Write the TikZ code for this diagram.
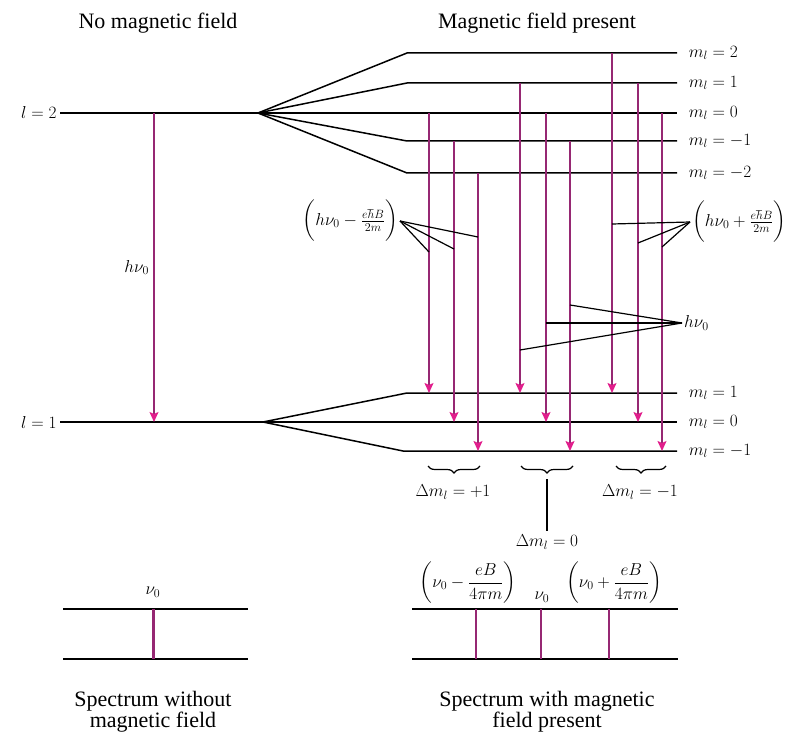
\documentclass[tikz,border=0pt]{standalone}
\usepackage{amsmath}
\usepackage{fontspec}
\setmainfont{Liberation Serif}
\usetikzlibrary{arrows.meta,decorations.pathreplacing}
\definecolor{zline}{RGB}{150,40,115}
\definecolor{zhead}{RGB}{225,30,140}

\begin{document}
\begin{tikzpicture}[x=1pt,y=-1pt,font=\fontsize{17}{20}\selectfont,
  lvl/.style={line width=1.5pt},
  trans/.style={zline,line width=1.4pt,-{Stealth[length=10pt,width=9pt,inset=2pt,color=zhead]}},
  note/.style={line width=1.2pt},
  mlab/.style={anchor=west,inner sep=0pt,xshift=11pt},
  head/.style={font=\fontsize{22}{21}\selectfont,align=center}]
  \useasboundingbox (0,0) rectangle (787,735);
  \node[head] (tnf) at (158,23) {No magnetic field};
  \node[head] (tmf) at (537,23) {Magnetic field present};
  % upper level and its splitting
  \node[anchor=east] (l2) at (60,113) {$l = 2$};
  \coordinate (s2) at (258,113);
  \draw[lvl] (l2.east) -- (677,113) node[mlab] (U0) {$m_l = 0$};
  \foreach \y/\n/\t in {53/U2/2, 83/U1/1, 141/Um1/-1, 173/Um2/-2}
    \draw[lvl] (s2) -- (407,\y) -- (677,\y) node[mlab] (\n) {$m_l = \t$};
  % lower level and its splitting
  \node[anchor=east] (l1) at (60,422) {$l = 1$};
  \coordinate (s1) at (263,422);
  \draw[lvl] (l1.east) -- (677,422) node[mlab] (L0) {$m_l = 0$};
  \draw[lvl] (s1) -- (407,393) -- (677,393) node[mlab] (L1) {$m_l = 1$};
  \draw[lvl] (s1) -- (403,451) -- (677,451) node[mlab] (Lm1) {$m_l = -1$};
  % transitions
  \draw[trans] (154,0 |- l2) -- (154,0 |- l1) node[pos=0.5,left=1pt,text=black] (hl) {$h\nu_0$};
  \foreach \x/\a/\b in {429/U0/L1, 454/Um1/L0, 478/Um2/Lm1,
                        520/U1/L1, 546/U0/L0, 570/Um1/Lm1,
                        612/U2/L1, 638/U1/L0, 662/U0/Lm1}
    \draw[trans] (\x,0 |- \a) -- (\x,0 |- \b);
  % energy labels
  \node[anchor=east,inner sep=2pt] (hm) at (400,221) {$\left(h\nu_0 - \frac{e\hbar B}{2m}\vphantom{\dfrac{B}{m}}\right)$};
  \foreach \x/\y in {429/252, 454/249, 478/237}
    \draw[note] (hm.east) -- (\x,\y);
  \node[anchor=west,inner sep=2pt] (hp) at (690,222) {$\left(h\nu_0 + \frac{e\hbar B}{2m}\vphantom{\dfrac{B}{m}}\right)$};
  \foreach \x/\y in {612/224, 638/243, 662/247}
    \draw[note] (hp.west) -- (\x,\y);
  \node[anchor=west,inner sep=2pt] (h0) at (682,323) {$h\nu_0$};
  \foreach \x/\y in {570/305, 546/323, 520/350}
    \draw[note] (h0.west) -- (\x,\y);
  % selection rule braces
  \draw[note,decorate,decoration={brace,mirror,amplitude=7pt}] (428,466) -- (480,466);
  \draw[note,decorate,decoration={brace,mirror,amplitude=7pt}] (521,466) -- (573,466);
  \draw[note,decorate,decoration={brace,mirror,amplitude=7pt}] (616,466) -- (666,466);
  \node (dp) at (453,492) {$\Delta m_l = +1$};
  \node (dm) at (640,492) {$\Delta m_l = -1$};
  \node (dz) at (547,542) {$\Delta m_l = 0$};
  \coordinate (bz) at (547,479);
  \draw[note] (bz) -- (dz.north);
  % spectra
  \draw[lvl] (63,609) -- (248,609);
  \draw[lvl] (63,659) -- (248,659);
  \draw[zline,line width=3pt] (153,609) -- (153,659);
  \node (n0) at (153,592) {$\nu_0$};
  \node[head] (sw) at (153,712) {Spectrum without\\magnetic field};
  \draw[lvl] (412,609) -- (678,609);
  \draw[lvl] (412,659) -- (678,659);
  \foreach \x in {476,541,609}
    \draw[zline,line width=1.2pt] (\x,609) -- (\x,659);
  \node[inner sep=1pt] (nm) at (468,583) {$\left(\nu_0 - \dfrac{eB}{4\pi m}\right)$};
  \node (nc) at (542,597) {$\nu_0$};
  \node[inner sep=1pt] (np) at (614,583) {$\left(\nu_0 + \dfrac{eB}{4\pi m}\right)$};
  \node[head] (sm) at (547,712) {Spectrum with magnetic\\field present};
\end{tikzpicture}
\end{document}
